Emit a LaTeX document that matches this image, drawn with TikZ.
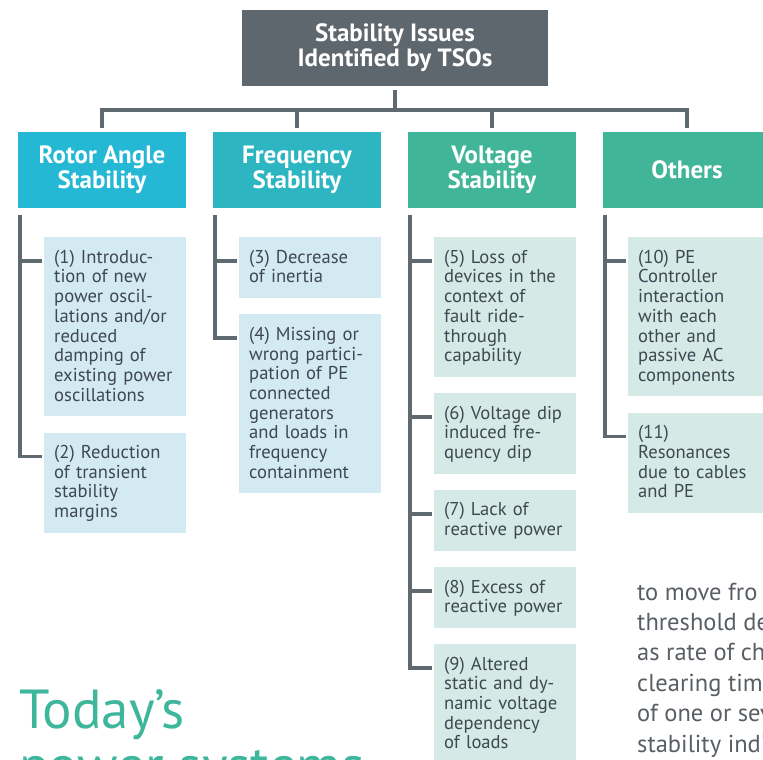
\documentclass[tikz,border=0pt]{standalone}
\usepackage{fontspec}
\setmainfont{PT Sans}
\usepackage{xcolor}
\usetikzlibrary{positioning}

\definecolor{topgray}{HTML}{5D676D}
\definecolor{linegray}{HTML}{5F6970}
\definecolor{rotorcyan}{HTML}{25B8D5}
\definecolor{freqteal}{HTML}{2DB6C2}
\definecolor{voltgreen}{HTML}{41B598}
\definecolor{itemblue}{HTML}{D4EAF3}
\definecolor{itemgreen}{HTML}{D5E9E6}
\definecolor{itemtext}{HTML}{3E4852}
\definecolor{pagetext}{HTML}{585E64}
\definecolor{titleteal}{HTML}{3DB69B}

% struts for first and last line of an issue box
\newcommand{\firstln}{\rule{0pt}{15.4pt}}
\newcommand{\lastln}{\rule[-4.4pt]{0pt}{4.4pt}}

\begin{document}
\begin{tikzpicture}[x=1pt,y=-1pt,node distance=16pt,
  topbox/.style={fill=topgray, text=white, align=center, inner sep=0pt,
    minimum width=306pt, minimum height=76pt,
    font=\bfseries\fontsize{25}{25}\selectfont},
  catbox/.style={fill=#1, text=white, align=center, inner sep=0pt,
    minimum width=168pt, minimum height=76pt,
    font=\bfseries\fontsize{25}{25}\selectfont},
  issue/.style={fill=#1, text=itemtext, align=left, anchor=north west,
    text width=122pt, inner xsep=10pt, inner ysep=10.6pt,
    font=\fontsize{18.6}{19.7}\selectfont},
  conn/.style={draw=linegray, line width=3.6pt},
  pagetxt/.style={text=pagetext, anchor=base west, inner sep=0pt,
    font=\fontsize{24.5}{30}\selectfont}
]
\useasboundingbox (0,0) rectangle (763,760);
\clip (0,0) rectangle (763,760);

% Root
\node[topbox] (top) at (395,48) {Stability Issues\\Identified by TSOs};

% Categories
\node[catbox=rotorcyan] (rotor) at (102,170) {Rotor Angle\\Stability};
\node[catbox=freqteal] (freq) at (297,170) {Frequency\\Stability};
\node[catbox=voltgreen] (volt) at (492,170) {Voltage\\Stability};
\node[catbox=voltgreen] (others) at (687,170) {Others};

% Tree from the root
\coordinate (bar) at (395,110);
\draw[conn, shorten <=4pt] (top.south) -- (bar);
\foreach \c in {rotor,freq,volt,others}
  \draw[conn, shorten >=4pt] (bar) -| (\c.north);

% Rotor angle issues
\node[issue=itemblue] (i1) at (44,237) {\firstln(1) Introduc-\\tion of new\\power oscil-\\lations and/or\\reduced\\damping of\\existing power\\oscillations\lastln};
\node[issue=itemblue, below=of i1] (i2) {\firstln(2) Reduction\\of transient\\stability\\margins\lastln};

% Frequency issues
\node[issue=itemblue] (i3) at (239,237) {\firstln(3) Decrease\\of inertia\lastln};
\node[issue=itemblue, below=of i3] (i4) {\firstln(4) Missing or\\wrong partici-\\pation of PE\\connected\\generators\\and loads in\\frequency\\containment\lastln};

% Voltage issues
\node[issue=itemgreen] (i5) at (434,237) {\firstln(5) Loss of\\devices in the\\context of\\fault ride-\\through\\capability\lastln};
\node[issue=itemgreen, below=of i5] (i6) {\firstln(6) Voltage dip\\induced fre-\\quency dip\lastln};
\node[issue=itemgreen, below=of i6] (i7) {\firstln(7) Lack of\\reactive power\lastln};
\node[issue=itemgreen, below=of i7] (i8) {\firstln(8) Excess of\\reactive power\lastln};
\node[issue=itemgreen, below=of i8] (i9) {\firstln(9) Altered\\static and dy-\\namic voltage\\dependency\\of loads\lastln};

% Other issues
\node[issue=itemgreen] (i10) at (628,237) {\firstln(10) PE\\Controller\\interaction\\with each\\other and\\passive AC\\components\lastln};
\node[issue=itemgreen, below=of i10] (i11) {\firstln(11)\\Resonances\\due to cables\\and PE\lastln};

% Branches
\foreach \c/\i in {rotor/i1,rotor/i2,freq/i3,freq/i4,volt/i5,volt/i6,volt/i7,volt/i8,volt/i9,others/i10,others/i11}
  \draw[conn] ([xshift=2pt,yshift=-7pt]\c.south west) |- ([xshift=-2.5pt,yshift=-24pt]\i.north west);

% Page text around the figure
\node[text=titleteal, anchor=base west, inner sep=0pt, font=\fontsize{55}{55}\selectfont] (today) at (19,728) {Today’s};
\node[text=titleteal, anchor=base west, inner sep=0pt, font=\fontsize{55}{55}\selectfont] (power) at (19,784) {power systems};
\foreach \n/\t [count=\k from 0] in {a/to move fro,b/threshold de,c/as rate of ch,d/clearing tim,e/of one or sev,f/stability indi}
  \node[pagetxt] (p\n) at (637,600+30.4*\k) {\t};

\end{tikzpicture}
\end{document}
